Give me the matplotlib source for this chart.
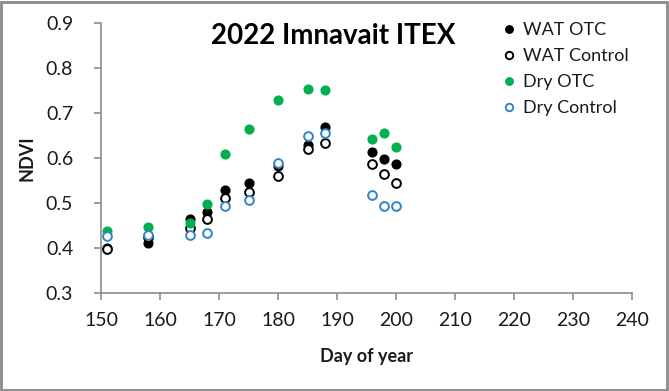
import matplotlib.pyplot as plt
from matplotlib.patches import Rectangle

plt.rcParams['font.family'] = ['Lato', 'DejaVu Sans']

days = [151, 158, 165, 168, 171, 175, 180, 185, 188, 196, 198, 200]
wat_otc = [0.400, 0.412, 0.464, 0.480, 0.528, 0.544, 0.583, 0.630, 0.670, 0.613, 0.597, 0.587]
wat_ctrl = [0.397, 0.424, 0.444, 0.464, 0.512, 0.524, 0.561, 0.621, 0.633, 0.587, 0.564, 0.544]
dry_otc = [0.438, 0.447, 0.456, 0.497, 0.609, 0.665, 0.730, 0.753, 0.752, 0.643, 0.656, 0.625]
dry_ctrl = [0.427, 0.428, 0.430, 0.433, 0.494, 0.506, 0.588, 0.650, 0.655, 0.518, 0.494, 0.494]

green = '#00B050'
blue = '#3283C8'
txt = '#1a1a1a'
axis_col = '#8c8c8c'

fig = plt.figure(figsize=(6.69, 3.91), dpi=100)
ax = fig.add_axes([101 / 669, 1 - 293 / 391, 531 / 669, 270 / 391])

ms = 6.3
ax.plot(days, wat_otc, 'o', color='black', ms=ms, label='WAT OTC', clip_on=False)
ax.plot(days, wat_ctrl, 'o', mfc='white', mec='black', mew=1.4, ms=ms, label='WAT Control', clip_on=False)
ax.plot(days, dry_otc, 'o', color=green, ms=ms, label='Dry OTC', clip_on=False)
ax.plot(days, dry_ctrl, 'o', mfc='white', mec=blue, mew=1.4, ms=ms, label='Dry Control', clip_on=False)

ax.set_xlim(150, 240)
ax.set_ylim(0.3, 0.9)
ax.set_xticks(range(150, 241, 10))
ax.set_yticks([0.3, 0.4, 0.5, 0.6, 0.7, 0.8, 0.9])
ax.set_yticklabels(['0.3', '0.4', '0.5', '0.6', '0.7', '0.8', '0.9'])

for s in ['top', 'right']:
    ax.spines[s].set_visible(False)
for s in ['left', 'bottom']:
    ax.spines[s].set_color(axis_col)
    ax.spines[s].set_linewidth(1.2)
ax.tick_params(direction='out', length=5, width=1.2, color=axis_col,
               labelsize=14, labelcolor=txt)
ax.tick_params(axis='y', pad=15)
ax.tick_params(axis='x', pad=9)

ax.set_xlabel('Day of year', fontsize=13, fontweight='bold', color=txt)
ax.set_ylabel('NDVI', fontsize=13, fontweight='bold', color=txt)
ax.xaxis.set_label_coords((366 - 101) / 531, -(348 - 293) / 270)
ax.yaxis.set_label_coords(-(101 - 36) / 531, 0.5)

ax.text(0.438, 0.95, '2022 Imnavait ITEX', transform=ax.transAxes, ha='center',
        va='center', fontsize=20, fontweight='bold', color='black')

leg = fig.legend(loc='upper left', bbox_to_anchor=(495 / 669, 1 - 13 / 391),
                 frameon=False, fontsize=13, handlelength=0.6, handletextpad=0.45,
                 labelspacing=0.55, markerscale=0.85, borderpad=0)
for t in leg.get_texts():
    t.set_color(txt)

fig.patches.append(Rectangle((0.002, 0.003), 0.995, 0.993, transform=fig.transFigure,
                             fill=False, edgecolor='#8a8a8a', linewidth=2))

fig.savefig('out.png', dpi=100)
